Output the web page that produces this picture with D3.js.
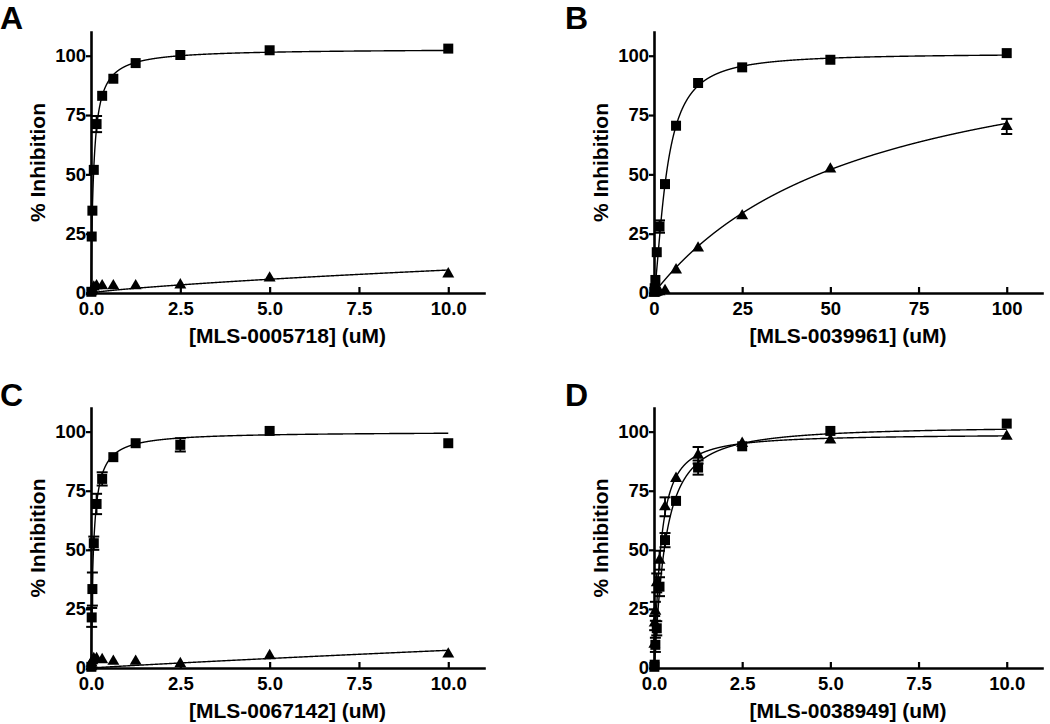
<!DOCTYPE html>
<html>
<head>
<meta charset="utf-8">
<script src="https://cdn.jsdelivr.net/npm/d3@7"></script>
<style>
  html, body { margin: 0; padding: 0; background: #fff; }
  svg { display: block; font-family: "Liberation Sans", Arial, Helvetica, sans-serif; font-weight: bold; }
</style>
</head>
<body>
<svg id="chart" width="1050" height="724"></svg>
<script>
// ---------------- data ----------------
const panelLetters = ["A", "B", "C", "D"];
const xTitles = ["[MLS-0005718] (uM)", "[MLS-0039961] (uM)", "[MLS-0067142] (uM)", "[MLS-0038949] (uM)"];
const yTitle = "% Inhibition";
const yTicks = [0, 25, 50, 75, 100];
const xTicksLow = [0, 2.5, 5, 7.5, 10];
const xTicksHigh = [0, 25, 50, 75, 100];

const concLow  = [10, 5, 2.5, 1.25, 0.625, 0.3125, 0.156, 0.078, 0.039, 0.0195, 0.0098];
const concHigh = [100, 50, 25, 12.5, 6.25, 3.125, 1.56, 0.78, 0.39, 0.195, 0.098];

// Panel A
const aSquare    = [103, 102.3, 100.3, 96.9, 90.3, 83.1, 71.2, 51.9, 34.7, 23.8, 0.5];
const aSquareErr = [0.5, 0.5, 0.5, 0.8, 0.8, 1, 3.4, 1.5, 2.2, 1, 0.5];
const aTri       = [8, 6.3, 3.4, 3, 3, 3, 3, 2.5, 1.5, 1, 0.5];
const aTriErr    = [0.5, 0.5, 0.5, 0.5, 0.5, 0.5, 0.5, 0.5, 0.5, 0.5, 0.5];
// Panel B
const bSquare    = [101.1, 98.3, 95.1, 88.5, 70.5, 45.9, 28, 17.2, 5.5, 2, 0.5];
const bSquareErr = [0.5, 0.5, 0.5, 0.5, 0.8, 1, 2.6, 1, 1, 0.5, 0.5];
const bTri       = [70.2, 52.2, 32.5, 18.9, 9.7, 1, 0.5, 0.3, 0.2, 0.1, 0];
const bTriErr    = [3.2, 1, 1, 1, 0.5, 0.5, 0.5, 0.5, 0.5, 0.5, 0.5];
// Panel C
const cSquare    = [95.1, 100.3, 94.4, 95.1, 89.2, 80, 69.4, 52.8, 33.4, 21.4, 0.5];
const cSquareErr = [0.5, 0.5, 2.8, 0.8, 2.2, 2.8, 4.3, 2.8, 7, 4, 0.5];
const cTri       = [5.9, 5.2, 1.8, 2.8, 2.8, 3.5, 3.9, 4, 3, 2, 0.5];
const cTriErr    = [0.5, 0.5, 0.5, 0.5, 0.5, 0.5, 0.5, 0.5, 0.5, 0.5, 0.5];
// Panel D
const dSquare    = [103.4, 100.3, 93.8, 84.8, 70.7, 54.1, 34.4, 16.8, 9.8, 1.4, 0.5];
const dSquareErr = [0.5, 0.5, 0.8, 3, 1, 3, 4, 3, 3, 1, 0.5];
const dTri       = [98, 96.4, 95, 90, 80.2, 68.2, 45.6, 36, 24, 19, 10];
const dTriErr    = [0.5, 0.5, 0.5, 3.5, 1, 4, 4, 4, 4, 3, 2];

// fitted dose-response curves (top, IC50, Hill) per panel: [square, triangle]
const fitTop  = [[103, 100], [101, 114.4], [100, 100], [102.5, 99]];
const fitIC50 = [[0.075, 163], [3.54, 60], [0.069, 141], [0.3, 0.18]];
const fitHill = [[1, 0.8], [1.47, 1], [1, 0.95], [1.2, 1.2]];

// ---------------- layout ----------------
const svg = d3.select("#chart");
const cols = [{x0: 91, x1: 484, lx: 0}, {x0: 654, x1: 1042, lx: 565}];
const rows = [{y0: 293, y1: 32, ly: 29}, {y0: 668, y1: 408, ly: 406}];

const panels = [
  {conc: concLow,  xMax: 11,  ticks: xTicksLow,  fmt: d3.format(".1f"), sq: aSquare, sqE: aSquareErr, tr: aTri, trE: aTriErr},
  {conc: concHigh, xMax: 110, ticks: xTicksHigh, fmt: d3.format("d"),   sq: bSquare, sqE: bSquareErr, tr: bTri, trE: bTriErr},
  {conc: concLow,  xMax: 11,  ticks: xTicksLow,  fmt: d3.format(".1f"), sq: cSquare, sqE: cSquareErr, tr: cTri, trE: cTriErr},
  {conc: concLow,  xMax: 11,  ticks: xTicksLow,  fmt: d3.format(".1f"), sq: dSquare, sqE: dSquareErr, tr: dTri, trE: dTriErr}
];

const hill = (x, top, k, h) => x <= 0 ? 0 : top / (1 + Math.pow(k / x, h));

panels.forEach((p, i) => {
  const c = cols[i % 2], r = rows[Math.floor(i / 2)];
  const x = d3.scaleLinear().domain([0, p.xMax]).range([c.x0, c.x1]);
  const y = d3.scaleLinear().domain([0, 110]).range([r.y0, r.y1]);
  const g = svg.append("g");

  // fit curves
  const dataMax = d3.max(p.conc);
  const xs = d3.range(0, 2001).map(j => dataMax * Math.pow(j / 2000, 2));
  [0, 1].forEach(s => {
    const pts = xs.map(v => [v, hill(v, fitTop[i][s], fitIC50[i][s], fitHill[i][s])]);
    g.append("path")
      .datum(pts)
      .attr("fill", "none")
      .attr("stroke", "#000")
      .attr("stroke-width", 1.4)
      .attr("d", d3.line().x(d => x(d[0])).y(d => y(d[1])));
  });

  // error bars (only shown when they extend beyond the symbol, as in the original)
  const capW = 11;
  const series = [
    {vals: p.sq, errs: p.sqE},
    {vals: p.tr, errs: p.trE}
  ];
  series.forEach(se => {
    p.conc.forEach((cx, k) => {
      const v = se.vals[k], e = se.errs[k];
      const px = x(cx);
      const yt = y(v + e), yb = y(Math.max(v - e, 0));
      if (Math.abs(y(v) - yt) < 5.5) return;
      g.append("line").attr("x1", px).attr("x2", px).attr("y1", yt).attr("y2", yb)
        .attr("stroke", "#000").attr("stroke-width", 1.8);
      g.append("line").attr("x1", px - capW / 2).attr("x2", px + capW / 2).attr("y1", yt).attr("y2", yt)
        .attr("stroke", "#000").attr("stroke-width", 2);
      g.append("line").attr("x1", px - capW / 2).attr("x2", px + capW / 2).attr("y1", yb).attr("y2", yb)
        .attr("stroke", "#000").attr("stroke-width", 2);
    });
  });

  // markers
  const sqSym = d3.symbol().type(d3.symbolSquare).size(100);
  const trSym = d3.symbol().type(d3.symbolTriangle).size(62);
  g.selectAll(".sq").data(p.conc.map((cx, k) => [cx, p.sq[k]])).enter()
    .append("path").attr("d", sqSym)
    .attr("transform", d => `translate(${x(d[0])},${y(d[1])})`).attr("fill", "#000");
  g.selectAll(".tr").data(p.conc.map((cx, k) => [cx, p.tr[k]])).enter()
    .append("path").attr("d", trSym)
    .attr("transform", d => `translate(${x(d[0])},${y(d[1])})`).attr("fill", "#000");

  // axes
  const yAxis = d3.axisLeft(y).tickValues(yTicks).tickSizeInner(5).tickSizeOuter(0).tickPadding(0);
  const xAxis = d3.axisBottom(x).tickValues(p.ticks).tickFormat(p.fmt).tickSizeInner(-6).tickSizeOuter(0).tickPadding(9);
  const ya = g.append("g").attr("transform", `translate(${c.x0},0)`).call(yAxis);
  const xa = g.append("g").attr("transform", `translate(0,${r.y0})`).call(xAxis);
  [ya, xa].forEach(a => {
    a.select(".domain").attr("stroke-width", 2.6).attr("stroke-linecap", "square");
    a.selectAll(".tick line").attr("stroke-width", 2.2);
    a.selectAll(".tick text").attr("font-size", 18.5).attr("font-weight", "bold")
      .attr("font-family", "'Liberation Sans', Arial, sans-serif").attr("fill", "#000");
  });

  // titles
  g.append("text")
    .attr("x", (c.x0 + c.x1) / 2).attr("y", r.y0 + 50)
    .attr("text-anchor", "middle").attr("font-size", 21)
    .text(xTitles[i]);
  g.append("text")
    .attr("transform", `translate(${c.x0 - 46},${(r.y0 + r.y1) / 2}) rotate(-90)`)
    .attr("text-anchor", "middle").attr("font-size", 21)
    .text(yTitle);
  g.append("text")
    .attr("x", c.lx).attr("y", r.ly)
    .attr("font-size", 32)
    .text(panelLetters[i]);
});
</script>
</body>
</html>
